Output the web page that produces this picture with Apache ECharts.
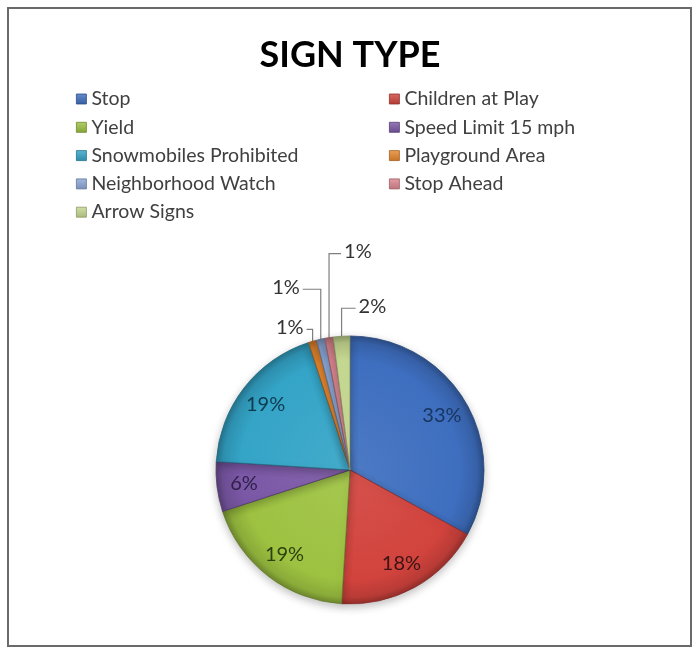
<!DOCTYPE html>
<html>
<head>
<meta charset="utf-8">
<script src="https://cdn.jsdelivr.net/npm/echarts@6/dist/echarts.min.js"></script>
<style>
html,body{margin:0;padding:0;background:#fff;}
#chart{width:700px;height:653px;}
</style>
</head>
<body>
<div id="chart"></div>
<script>
const categories = ['Stop','Children at Play','Yield','Speed Limit 15 mph','Snowmobiles Prohibited','Playground Area','Neighborhood Watch','Stop Ahead','Arrow Signs'];
const values = [33, 18, 19, 6, 19, 1, 1, 1, 2];
const colors = ['#3E6EBF','#D2433D','#9DC241','#7B58A6','#34A4C7','#E8872D','#8CA8D8','#DD8690','#C7DA92'];
const labelColors = ['#17355F','#3A1414','#2C420E','#2E1F48','#0F3A4E','#333333','#333333','#333333','#333333'];
const legendLeft = ['Stop','Yield','Snowmobiles Prohibited','Neighborhood Watch','Arrow Signs'];
const legendRight = ['Children at Play','Speed Limit 15 mph','Playground Area','Stop Ahead'];
// leader line style for the small slices: [vertical length, horizontal length, side]
const smallLines = { 5: [12, 6, -1], 6: [50, 18, -1], 7: [84, 12, 1], 8: [28, 14, 1] };

function shade(hex, f){
  const n = parseInt(hex.slice(1),16);
  let r=(n>>16)&255,g=(n>>8)&255,b=n&255;
  if(f<0){r=Math.round(r*(1+f));g=Math.round(g*(1+f));b=Math.round(b*(1+f));}
  else{r=Math.round(r+(255-r)*f);g=Math.round(g+(255-g)*f);b=Math.round(b+(255-b)*f);}
  return 'rgb('+r+','+g+','+b+')';
}

const CX = 350, CY = 470, R = 134;

const mainData = categories.map((c,i)=>{
  const small = values[i] < 3;
  return {
    name: c, value: values[i],
    itemStyle: {
      color: {type:'radial', x:CX, y:CY, r:R, global:true, colorStops:[
        {offset:0, color: shade(colors[i], 0.08)},
        {offset:0.82, color: colors[i]},
        {offset:0.95, color: shade(colors[i], -0.12)},
        {offset:1, color: shade(colors[i], -0.3)}
      ]},
      borderColor: shade(colors[i], -0.35), borderWidth: 0.8
    },
    label: small ? {show:true, position:'outside', color: labelColors[i], formatter:'{c}%'} : {show:false},
    labelLine: small ? {show:true, length: smallLines[i][0], length2: smallLines[i][1], smooth:false,
      lineStyle:{color:'#7f7f7f', width:1.2}} : {show:false}
  };
});

const overlayData = categories.map((c,i)=>({
  name: c, value: values[i],
  label: {show: values[i] >= 3, color: labelColors[i]}
}));

function legendItems(names){
  return names.map(n=>{
    const i = categories.indexOf(n);
    return {name:n, itemStyle:{color:{type:'linear',x:0,y:0,x2:0,y2:1,colorStops:[
      {offset:0,color:shade(colors[i],0.2)},{offset:1,color:shade(colors[i],-0.15)}]},
      borderColor: shade(colors[i],-0.3), borderWidth:0.8}};
  });
}

function smallLabelLayout(params){
  if (params.seriesIndex !== 0) return;
  const cfg = smallLines[params.dataIndex];
  const pts = params.labelLinePoints;
  if (!cfg || !pts) return;
  const p0 = pts[0];
  const p1 = [p0[0], p0[1] - cfg[0]];
  const p2 = [p1[0] + cfg[2]*cfg[1], p1[1]];
  return {
    x: p2[0] + cfg[2]*3, y: p2[1] - 2,
    align: cfg[2] > 0 ? 'left' : 'right', verticalAlign: 'middle',
    labelLinePoints: [p0, p1, p2]
  };
}

const legendText = {fontFamily:'Lato', fontSize:19.5, color:'#404040', lineHeight:20};

const chart = echarts.init(document.getElementById('chart'), null, {renderer:'canvas'});
chart.setOption({
  animation: false,
  backgroundColor: '#fff',
  color: colors,
  title: {
    text: 'SIGN TYPE', left: 'center', top: 32,
    textStyle: {fontFamily: 'Lato', fontWeight: 'bold', fontSize: 36, color: '#000'}
  },
  legend: [
    {data: legendItems(legendLeft), orient:'vertical', left: 76, top: 89, padding: 0, itemWidth: 10, itemHeight: 10, itemGap: 8.3,
     icon:'rect', selectedMode:false, textStyle: legendText},
    {data: legendItems(legendRight), orient:'vertical', left: 389, top: 89, padding: 0, itemWidth: 10, itemHeight: 10, itemGap: 8.3,
     icon:'rect', selectedMode:false, textStyle: legendText}
  ],
  graphic: [{type:'rect', shape:{x:8, y:8, width:683, height:638}, style:{fill:'none', stroke:'#6a6a6a', lineWidth:2}, silent:true}],
  series: [
    {
      type:'pie', center:[CX, CY], radius:[0, R], startAngle: 90, clockwise: true,
      avoidLabelOverlap: false, silent: true,
      data: mainData,
      label: {fontFamily:'Lato', fontSize:20},
      labelLayout: smallLabelLayout,
      itemStyle: {shadowBlur: 8, shadowColor:'rgba(0,0,0,0.25)', shadowOffsetY: 3}
    },
    {
      type:'pie', center:[CX, CY], radius:[R*0.55, R], startAngle: 90, clockwise: true,
      silent: true, avoidLabelOverlap:false,
      itemStyle: {color:'rgba(0,0,0,0)'},
      label: {position:'inside', formatter: '{c}%', fontFamily:'Lato', fontSize:20},
      labelLine: {show:false},
      data: overlayData
    }
  ]
});
</script>
</body>
</html>
